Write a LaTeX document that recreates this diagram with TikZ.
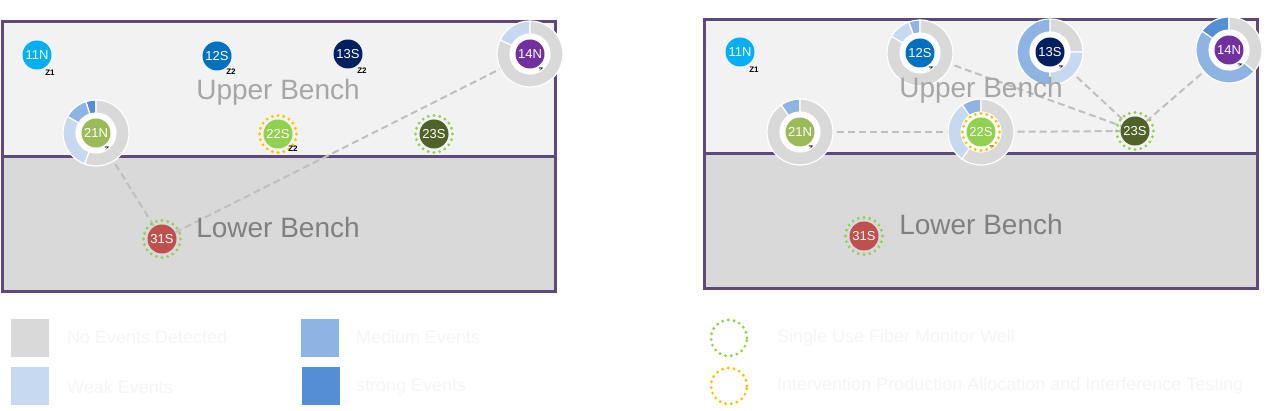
\documentclass[tikz,border=0pt]{standalone}
\usepackage{fontspec}
\setmainfont{Liberation Sans}
\usetikzlibrary{calc, backgrounds}

\pgfdeclarelayer{panels}
\pgfdeclarelayer{rings}
\pgfsetlayers{panels,background,rings,main}

\definecolor{frame}{HTML}{5F497A}
\definecolor{upperfill}{HTML}{F2F2F2}
\definecolor{lowerfill}{HTML}{D9D9D9}
\definecolor{none}{HTML}{D9D9D9}
\definecolor{weak}{HTML}{C6D9F1}
\definecolor{medium}{HTML}{8DB4E2}
\definecolor{strong}{HTML}{558ED5}
\definecolor{c11}{HTML}{00B0F0}
\definecolor{c12}{HTML}{0070C0}
\definecolor{c13}{HTML}{002060}
\definecolor{c14}{HTML}{7030A0}
\definecolor{c21}{HTML}{9BBB59}
\definecolor{c22}{HTML}{92D050}
\definecolor{c23}{HTML}{4F6228}
\definecolor{c31}{HTML}{C0504D}
\definecolor{fibre}{HTML}{92D050}
\definecolor{interv}{HTML}{FFC000}
\definecolor{link}{HTML}{BFBFBF}
\definecolor{faint}{HTML}{F5F5F5}

\newcommand{\ringin}{20pt}
\newcommand{\ringout}{33pt}
% one coloured part of a donut round a well
\newcommand{\donutpart}[4]{%
  \fill[#4, draw=white, line width=1.2pt]
    ($(#1)+(#2:\ringout)$) arc[start angle=#2, end angle=#3, radius=\ringout]
    -- ($(#1)+(#3:\ringin)$) arc[start angle=#3, end angle=#2, radius=\ringin] -- cycle;}

\begin{document}
\begin{tikzpicture}[
  x=1pt, y=1pt,
  well/.style={circle, fill=#1, minimum size=29pt, inner sep=0pt, text=white,
               font=\fontsize{13}{13}\selectfont},
  zone/.style={font=\fontsize{8}{8}\selectfont\bfseries, inner sep=0pt},
  bench/.style={draw=frame, line width=3pt},
  benchlabel/.style={font=\fontsize{28}{30}\selectfont},
  dotring/.style={draw=#1, line width=3.2pt, dash pattern=on 0pt off 5.8pt, line cap=round},
  flow/.style={draw=link, line width=2pt, dash pattern=on 7pt off 4pt},
  key/.style={font=\fontsize{18}{20}\selectfont, text=faint, anchor=west, inner sep=0pt},
]
\useasboundingbox (0,0) rectangle (1282,411);

% ================= left panel =================
\begin{pgfonlayer}{panels}
  \draw[bench, fill=lowerfill] (2,119) rectangle (555,254);
  \draw[bench, fill=upperfill] (2,254) rectangle (555,389);
\end{pgfonlayer}
\node[benchlabel, text=black!35] (LUp) at (278,319) {Upper Bench};
\node[benchlabel, text=black!50] (LLow) at (278,184) {Lower Bench};

\node[well=c11] (L11N) at (37,356) {11N};
\node[well=c12] (L12S) at (217,355) {12S};
\node[well=c13] (L13S) at (348,357) {13S};
\node[well=c14] (L14N) at (530,357) {14N};
\node[well=c21] (L21N) at (96,278) {21N};
\node[well=c22] (L22S) at (278,277) {22S};
\node[well=c23] (L23S) at (434,277) {23S};
\node[well=c31] (L31S) at (162,172) {31S};

\node[zone] at (50,338) {Z1};
\node[zone] at (231,339) {Z2};
\node[zone] at (362,340) {Z2};
\node[zone] at (293,262) {Z2};

\begin{scope}[on background layer]
  \draw[flow] (L21N) -- (L31S);
  \draw[flow] (L31S) -- (L14N);
\end{scope}

\begin{pgfonlayer}{rings}
  \fill[white] (L14N) circle[radius=\ringin];
  \node[zone] at ($(L14N)+(13,-17)$) {Z2};
  \donutpart{L14N}{90}{155}{weak}
  \donutpart{L14N}{155}{450}{none}
  \fill[white] (L21N) circle[radius=\ringin];
  \node[zone] at ($(L21N)+(13,-17)$) {Z2};
  \donutpart{L21N}{90}{108}{strong}
  \donutpart{L21N}{108}{150}{medium}
  \donutpart{L21N}{150}{250}{weak}
  \donutpart{L21N}{250}{450}{none}
  \draw[dotring=interv] (L22S) circle[radius=18.5pt];
  \draw[dotring=fibre] (L23S) circle[radius=18.5pt];
  \draw[dotring=fibre] (L31S) circle[radius=18.5pt];
\end{pgfonlayer}

% ================= right panel =================
\begin{pgfonlayer}{panels}
  \draw[bench, fill=lowerfill] (704,122) rectangle (1257,257);
  \draw[bench, fill=upperfill] (704,257) rectangle (1257,391);
\end{pgfonlayer}
\node[benchlabel, text=black!35] (RUp) at (981,321) {Upper Bench};
\node[benchlabel, text=black!50] (RLow) at (981,187) {Lower Bench};

\node[well=c11] (R11N) at (740,359) {11N};
\node[well=c12] (R12S) at (920,358) {12S};
\node[well=c13] (R13S) at (1050,359) {13S};
\node[well=c14] (R14N) at (1229,361) {14N};
\node[well=c21] (R21N) at (800,279) {21N};
\node[well=c22] (R22S) at (981,279) {22S};
\node[well=c23] (R23S) at (1135,280) {23S};
\node[well=c31] (R31S) at (864,175) {31S};

\node[zone] at (754,341) {Z1};

\begin{scope}[on background layer]
  \draw[flow] (R21N) -- (R22S);
  \draw[flow] (R22S) -- (R23S);
  \draw[flow] (R12S) -- (R23S);
  \draw[flow] (R13S) -- (R23S);
  \draw[flow] (R14N) -- (R23S);
\end{scope}

\begin{pgfonlayer}{rings}
  \fill[white] (R12S) circle[radius=\ringin];
  \node[zone] at ($(R12S)+(13,-17)$) {Z2};
  \donutpart{R12S}{90}{110}{medium}
  \donutpart{R12S}{110}{150}{weak}
  \donutpart{R12S}{150}{450}{none}
  \fill[white] (R13S) circle[radius=\ringin];
  \node[zone] at ($(R13S)+(13,-17)$) {Z2};
  \donutpart{R13S}{0}{90}{none}
  \donutpart{R13S}{90}{270}{medium}
  \donutpart{R13S}{270}{360}{weak}
  \fill[white] (R14N) circle[radius=\ringin];
  \node[zone] at ($(R14N)+(13,-17)$) {Z2};
  \donutpart{R14N}{90}{145}{strong}
  \donutpart{R14N}{145}{320}{medium}
  \donutpart{R14N}{320}{450}{none}
  \fill[white] (R21N) circle[radius=\ringin];
  \node[zone] at ($(R21N)+(13,-17)$) {Z2};
  \donutpart{R21N}{90}{125}{medium}
  \donutpart{R21N}{125}{450}{none}
  \fill[white] (R22S) circle[radius=\ringin];
  \node[zone] at ($(R22S)+(13,-17)$) {Z2};
  \donutpart{R22S}{90}{125}{medium}
  \donutpart{R22S}{125}{235}{weak}
  \donutpart{R22S}{235}{450}{none}
  \draw[dotring=interv] (R22S) circle[radius=18.5pt];
  \draw[dotring=fibre] (R23S) circle[radius=18.5pt];
  \draw[dotring=fibre] (R31S) circle[radius=18.5pt];
\end{pgfonlayer}

% ================= legend =================
\fill[none] (11,54) rectangle (49,92);
\node[key] (t1) at (67,74) {No Events Detected};
\fill[weak] (11,6) rectangle (49,44);
\node[key] (t2) at (67,24) {Weak Events};
\fill[medium] (301,54) rectangle (339,92);
\node[key] (t3) at (356,74) {Medium Events};
\fill[strong] (302,6) rectangle (340,44);
\node[key] (t4) at (356,24) {strong Events};

\draw[dotring=fibre] (729,73) circle[radius=18pt];
\node[key] (t5) at (777,73) {Single Use Fiber Monitor Well};
\draw[dotring=interv] (729,25) circle[radius=18pt];
\node[key] (t6) at (777,25) {Intervention Production Allocation and Interference Testing};

\end{tikzpicture}
\end{document}
